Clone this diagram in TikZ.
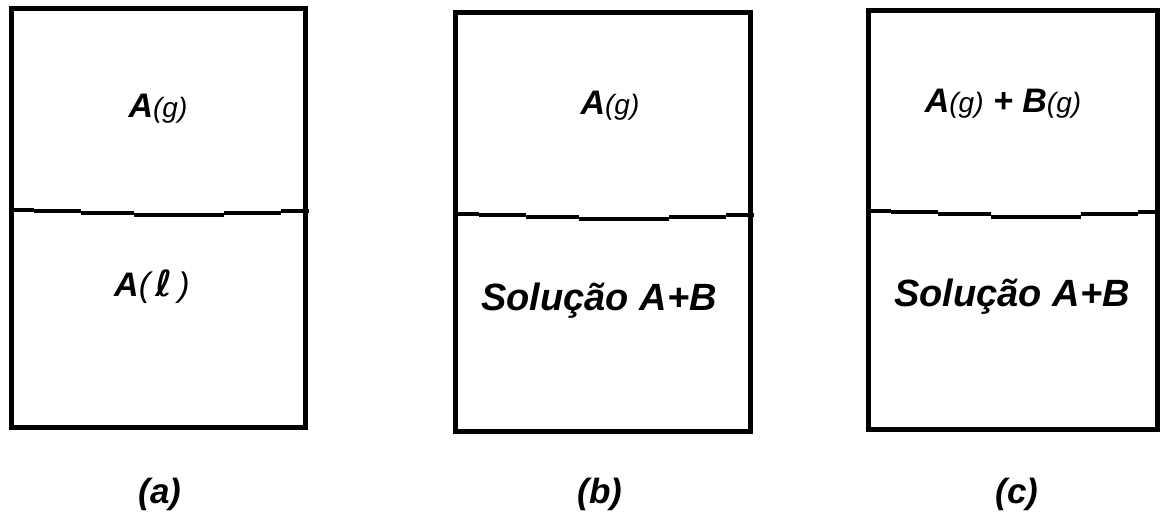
\documentclass[tikz,border=0pt]{standalone}
\usepackage{fontspec}
\setmainfont{Liberation Sans}
\newfontfamily\djv{DejaVu Sans}
\begin{document}
\begin{tikzpicture}[x=1pt,y=-1pt,
  boxline/.style={line width=5pt,line join=miter},
  ifline/.style={line width=4.5pt},
  big/.style={anchor=base,inner sep=0pt,font=\fontsize{34}{38}\selectfont\bfseries\itshape},
  sol/.style={anchor=base,inner sep=0pt,font=\fontsize{38}{42}\selectfont\bfseries\itshape},
  lab/.style={anchor=base,inner sep=0pt,font=\fontsize{35}{40}\selectfont\bfseries\itshape}]
\newcommand{\gsub}{{\fontsize{28}{30}\selectfont\mdseries(g)}}
\useasboundingbox (0,0) rectangle (1160,513);
% panel a
\draw[boxline] (11.5,9) rectangle (305.5,427.5);
\draw[ifline] (11.5,210) -- (34,210) (34,211) -- (81,211) (81,213) -- (134,213) (134,215) -- (224,215) (224,213) -- (281,213) (281,211) -- (309,211);
% panel b
\draw[boxline] (455.5,12.5) rectangle (750,431.5);
\draw[ifline] (455.5,214) -- (479,214) (479,215) -- (526,215) (526,217) -- (579,217) (579,219) -- (669,219) (669,217) -- (726,217) (726,215) -- (754,215);
% panel c
\draw[boxline] (868,10.5) rectangle (1157,429.5);
\draw[ifline] (868,211) -- (891,211) (891,212) -- (938,212) (938,214) -- (991,214) (991,217) -- (1081,217) (1081,214) -- (1138,214) (1138,212) -- (1160,212);
% texts
\node[big] (ag) at (158,118) {A\gsub};
\node[big] (al) at (152,297) {A{\mdseries(}\,{\djv\bfseries\itshape\fontsize{36}{38}\selectfont ℓ}\,{\mdseries)}};
\node[lab] (la) at (160,503) {(a)};
\node[big] (bg) at (610,115) {A\gsub};
\node[sol] (bs) at (599,310) {Solução A+B};
\node[lab] (lb) at (600,503) {(b)};
\node[big] (cg) at (1003,113) {A\gsub{} + B\gsub};
\node[sol] (cs) at (1012,307) {Solução A+B};
\node[lab] (lc) at (1017,503) {(c)};
\end{tikzpicture}
\end{document}
